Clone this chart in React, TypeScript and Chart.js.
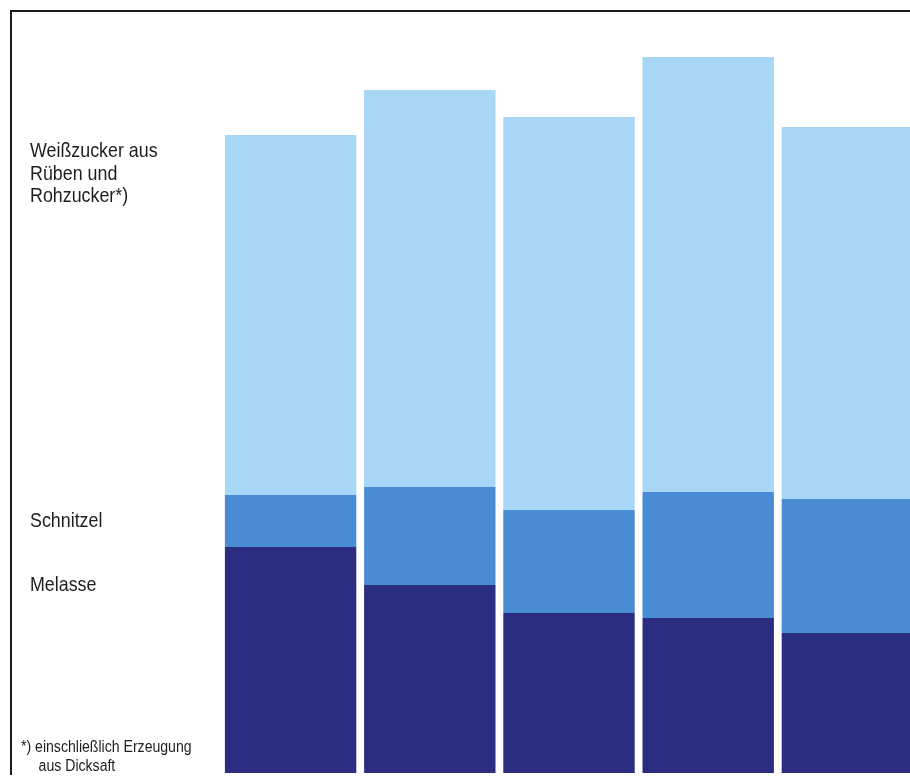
import React, { useEffect, useRef } from "react";
import { Chart, registerables } from "chart.js";

Chart.register(...registerables);

// Categories (five periods; the original shows no axis labels)
const categories = ["1", "2", "3", "4", "5"];

// Stacked values (relative units)
const melasse = [226, 188, 160, 155, 140];
const schnitzel = [52, 98, 103, 126, 134];
const weisszucker = [360, 397, 393, 435, 372];

const yMax = 763;

const colors = {
  melasse: "#2b2e80",
  schnitzel: "#4a8cd3",
  weiss: "#a7d6f6",
};

export default function App() {
  const canvasRef = useRef<HTMLCanvasElement | null>(null);

  useEffect(() => {
    if (!canvasRef.current) return;
    const chart = new Chart(canvasRef.current, {
      type: "bar",
      data: {
        labels: categories,
        datasets: [
          { label: "Melasse", data: melasse, backgroundColor: colors.melasse, borderWidth: 0 },
          { label: "Schnitzel", data: schnitzel, backgroundColor: colors.schnitzel, borderWidth: 0 },
          { label: "Weißzucker aus Rüben und Rohzucker*)", data: weisszucker, backgroundColor: colors.weiss, borderWidth: 0 },
        ],
      },
      options: {
        responsive: false,
        animation: false,
        devicePixelRatio: 1,
        layout: { padding: { left: 221, right: 3, top: 10, bottom: 4 } },
        datasets: { bar: { barPercentage: 1, categoryPercentage: 0.944 } },
        plugins: { legend: { display: false }, tooltip: { enabled: false } },
        scales: {
          x: { stacked: true, display: false },
          y: { stacked: true, display: false, min: 0, max: yMax },
        },
      },
    });
    return () => chart.destroy();
  }, []);

  const labelStyle: React.CSSProperties = {
    position: "absolute",
    left: 30,
    fontFamily: "'Liberation Sans', Arial, sans-serif",
    fontSize: 21,
    lineHeight: "22.5px",
    color: "#1e1e1e",
    transform: "scaleX(0.85)",
    transformOrigin: "left top",
    whiteSpace: "nowrap",
  };

  return (
    <div
      style={{
        position: "fixed",
        left: 0,
        top: 0,
        width: 910,
        height: 777,
        overflow: "hidden",
        background: "#ffffff",
      }}
    >
      <canvas ref={canvasRef} width={920} height={777} style={{ position: "absolute", left: 0, top: 0 }} />
      <div
        style={{
          position: "absolute",
          left: 10,
          top: 10,
          width: 1000,
          height: 763,
          borderLeft: "2px solid #1c1c1c",
          borderTop: "2px solid #1c1c1c",
          pointerEvents: "none",
        }}
      />
      <div style={{ ...labelStyle, top: 139 }}>
        Weißzucker aus
        <br />
        Rüben und
        <br />
        Rohzucker*)
      </div>
      <div style={{ ...labelStyle, top: 509 }}>Schnitzel</div>
      <div style={{ ...labelStyle, top: 573 }}>Melasse</div>
      <div
        style={{
          ...labelStyle,
          left: 21,
          top: 737,
          fontSize: 16,
          lineHeight: "19px",
          transform: "scaleX(0.88)",
        }}
      >
        *) einschließlich Erzeugung
        <br />
        <span style={{ paddingLeft: 20 }}>aus Dicksaft</span>
      </div>
    </div>
  );
}
